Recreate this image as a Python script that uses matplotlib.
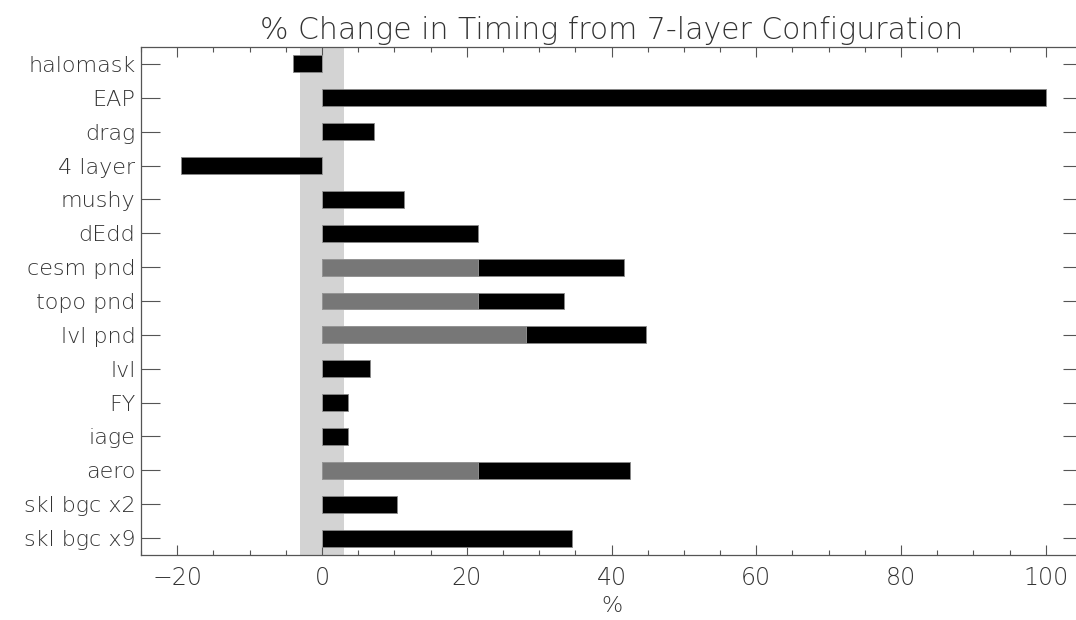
import matplotlib
matplotlib.use('Agg')
import matplotlib.pyplot as plt
from matplotlib.ticker import MultipleLocator

# categories, top to bottom
labels = ['halomask', 'EAP', 'drag', '4 layer', 'mushy', 'dEdd', 'cesm pnd',
          'topo pnd', 'lvl pnd', 'lvl', 'FY', 'iage', 'aero', 'skl bgc x2', 'skl bgc x9']
# total % change (black bar)
total = [-4.0, 100.0, 7.2, -19.5, 11.3, 21.5, 41.7,
         33.5, 44.8, 6.7, 3.6, 3.6, 42.5, 10.3, 34.6]
# part shown in gray (0 = none)
part = [0, 0, 0, 0, 0, 0, 21.5,
        21.5, 28.2, 0, 0, 0, 21.5, 0, 0]
band = 3.0  # noise band +/-

txt = '#333333'
plt.rcParams['font.family'] = 'DejaVu Sans'
plt.rcParams['font.weight'] = 'light'

fig = plt.figure(figsize=(10.76, 6.2), dpi=100)
ax = fig.add_axes([141/1076, 65/620, 941/1076, 508/620])

ax.axvspan(-band, band, color='#d3d3d3', zorder=0, lw=0)
ypos = list(range(len(labels)))
ax.barh(ypos, total, height=0.5, color='black', edgecolor='#888888', lw=0.6, zorder=2)
ax.barh(ypos, part, height=0.5, color='#777777', edgecolor='#999999', lw=0.6, zorder=3)

ax.set_xlim(-25, 105)
ax.set_ylim(len(labels) - 0.5, -0.5)
ax.set_yticks(ypos)
ax.set_yticklabels(labels)
ax.xaxis.set_major_locator(MultipleLocator(20))
ax.xaxis.set_minor_locator(MultipleLocator(5))

ax.tick_params(axis='x', which='major', direction='in', length=7, width=0.8,
               top=True, colors='#555555', labelcolor=txt, labelsize=17, pad=8)
ax.tick_params(axis='x', which='minor', direction='in', length=3.5, width=0.8,
               top=True, colors='#555555')
ax.tick_params(axis='y', which='major', direction='in', length=14, width=0.8,
               right=True, colors='#555555', labelcolor=txt, labelsize=16, pad=4)

for s in ax.spines.values():
    s.set_color('#555555')
    s.set_linewidth(0.9)
ax.spines['right'].set_visible(False)

ax.set_xlabel('%', fontsize=16, color=txt, labelpad=4, fontweight='light')
ax.set_title('% Change in Timing from 7-layer Configuration', fontsize=21.5,
             color=txt, pad=6, fontweight='light')

fig.savefig('out.png', dpi=100)
